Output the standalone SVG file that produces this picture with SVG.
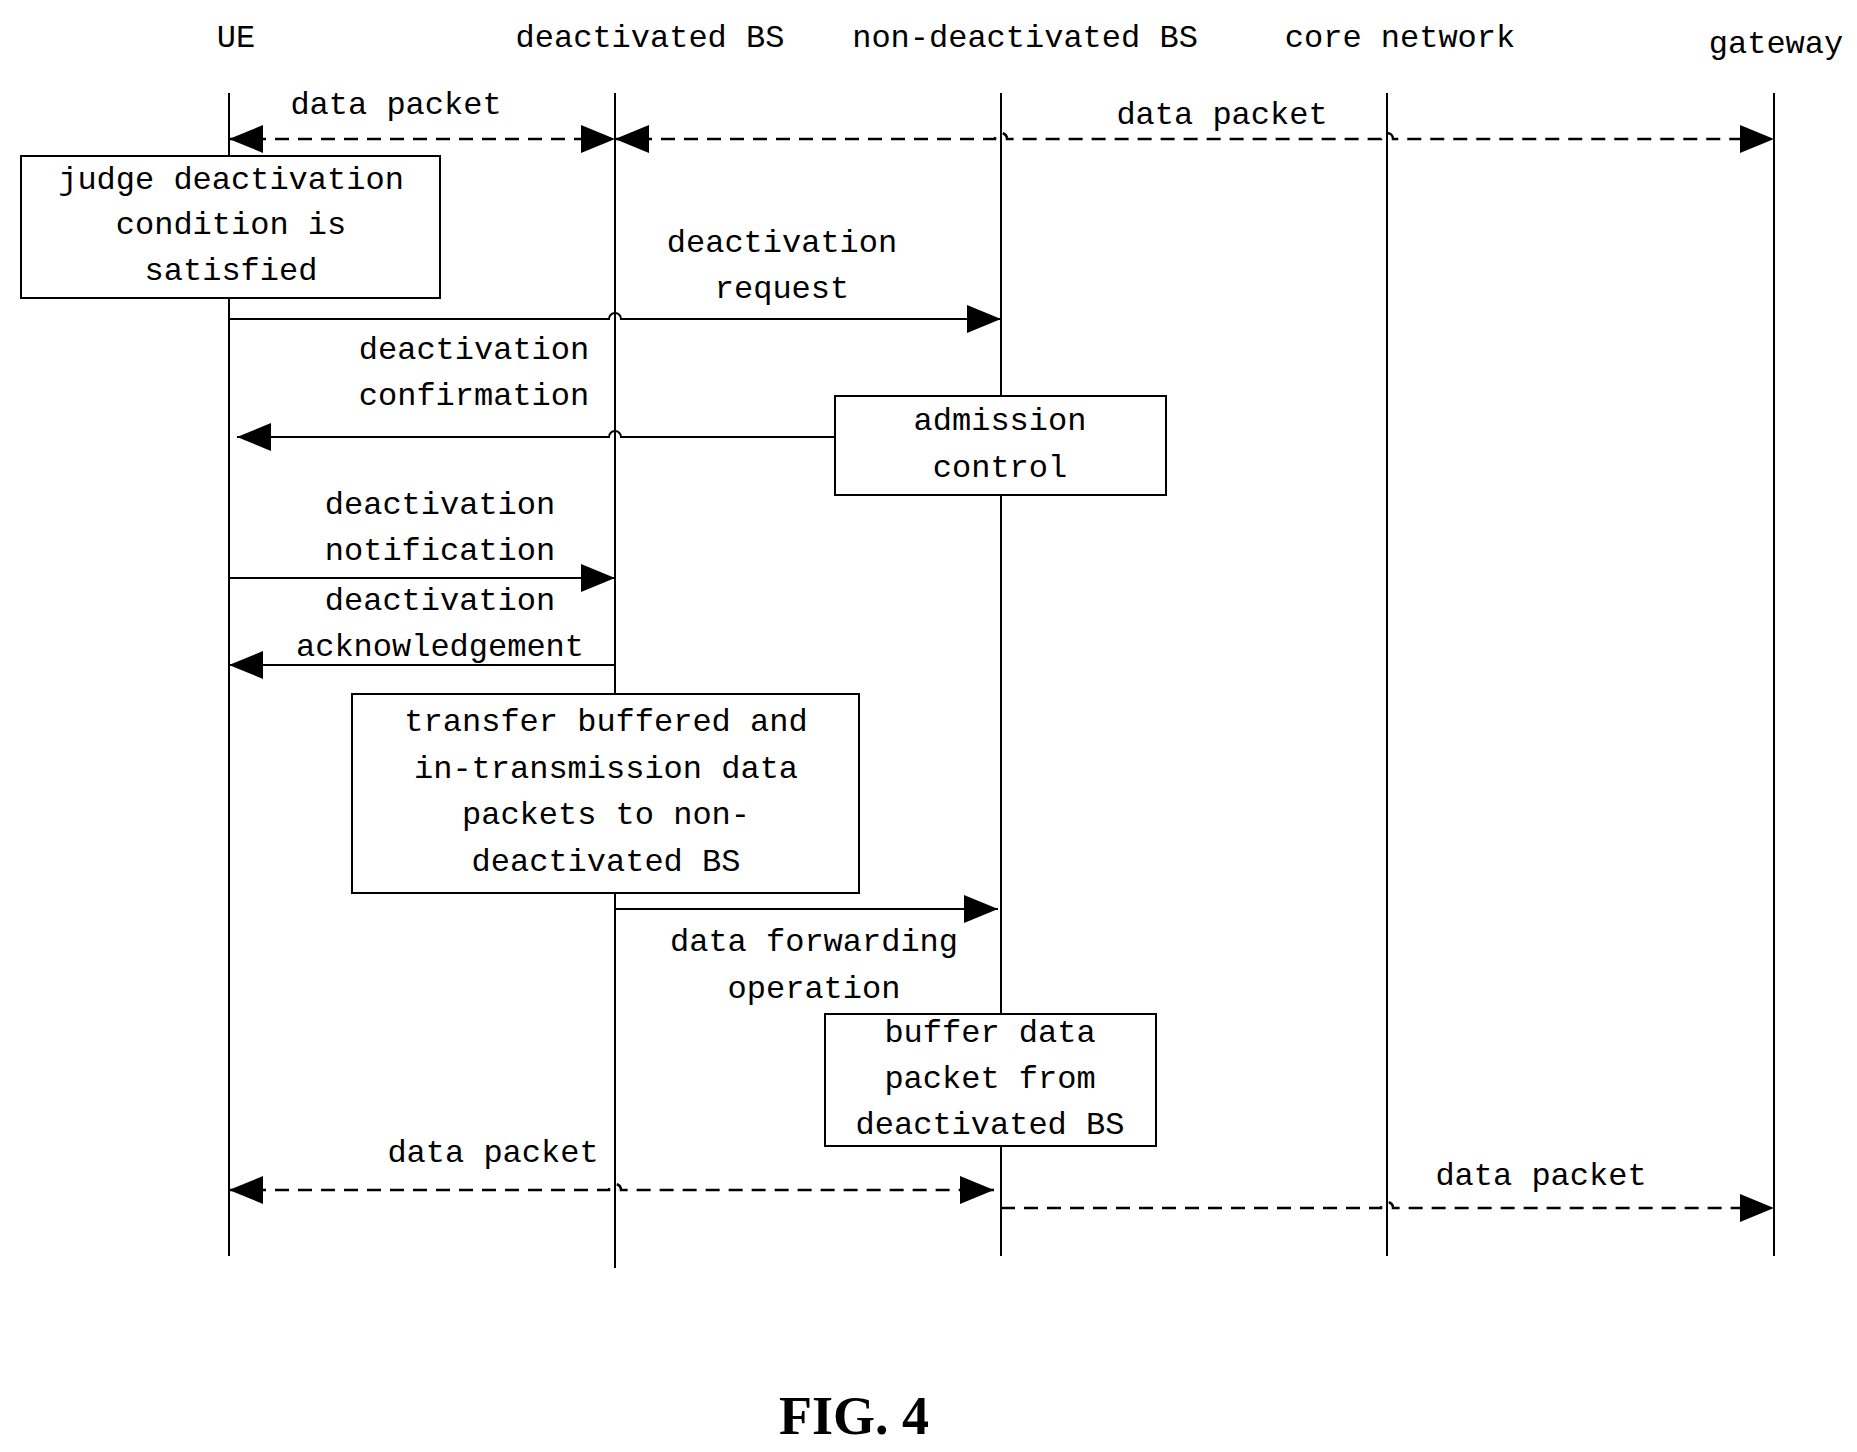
<svg xmlns="http://www.w3.org/2000/svg" width="1857" height="1452" viewBox="0 0 1857 1452">
<style>
text{font-family:"Liberation Mono","DejaVu Sans Mono",monospace;font-size:32px;fill:#000;text-anchor:middle;dominant-baseline:central}
.l{stroke:#000;stroke-width:2;fill:none}
.d{stroke:#000;stroke-width:2.5;fill:none;stroke-dasharray:14 9}
.b{fill:#fff;stroke:#000;stroke-width:2}
.fig{font-family:"Liberation Serif",serif;font-weight:bold;font-size:54px}
</style>
<defs>
<marker id="a" markerUnits="userSpaceOnUse" markerWidth="34" markerHeight="28" refX="34" refY="14" orient="auto-start-reverse"><path d="M0,0L34,14L0,28z" fill="#000"/></marker>
</defs>
<g id="headers">
<text x="236" y="38">UE</text>
<text x="650" y="38">deactivated BS</text>
<text x="1025" y="38">non-deactivated BS</text>
<text x="1400" y="38">core network</text>
<text x="1776" y="44">gateway</text>
</g>
<g id="lifelines">
<line class="l" x1="229" y1="93" x2="229" y2="1256"/>
<line class="l" x1="615" y1="93" x2="615" y2="1268"/>
<line class="l" x1="1001" y1="93" x2="1001" y2="1256"/>
<line class="l" x1="1387" y1="93" x2="1387" y2="1256"/>
<line class="l" x1="1774" y1="93" x2="1774" y2="1256"/>
</g>
<g id="connectors">
<line class="d" x1="229" y1="139" x2="615" y2="139" marker-start="url(#a)" marker-end="url(#a)"/>
<path class="d" d="M615,139H995a6,6 0 0 1 12,0H1381a6,6 0 0 1 12,0H1774" marker-start="url(#a)" marker-end="url(#a)"/>
<path class="l" d="M229,319H609a6,6 0 0 1 12,0H1001" marker-end="url(#a)"/>
<path class="l" d="M835,437H621a6,6 0 0 0 -12,0H237" marker-end="url(#a)"/>
<line class="l" x1="229" y1="578" x2="615" y2="578" marker-end="url(#a)"/>
<line class="l" x1="615" y1="665" x2="229" y2="665" marker-end="url(#a)"/>
<path class="l" d="M615,893V909H998" marker-end="url(#a)"/>
<path class="d" d="M229,1190H609a6,6 0 0 1 12,0H994" marker-start="url(#a)" marker-end="url(#a)"/>
<path class="d" d="M1001,1208H1381a6,6 0 0 1 12,0H1774" marker-end="url(#a)"/>
</g>
<g id="labels">
<text x="396" y="105">data packet</text>
<text x="1222" y="115">data packet</text>
<text x="782" y="243">deactivation</text>
<text x="782" y="289">request</text>
<text x="474" y="350">deactivation</text>
<text x="474" y="396">confirmation</text>
<text x="440" y="505">deactivation</text>
<text x="440" y="551">notification</text>
<text x="440" y="601">deactivation</text>
<text x="440" y="647">acknowledgement</text>
<text x="814" y="942">data forwarding</text>
<text x="814" y="989">operation</text>
<text x="493" y="1153">data packet</text>
<text x="1541" y="1176">data packet</text>
</g>
<g id="judge">
<rect class="b" x="21" y="156" width="419" height="142"/>
<text x="231" y="180">judge deactivation</text>
<text x="231" y="225">condition is</text>
<text x="231" y="271">satisfied</text>
</g>
<g id="admission">
<rect class="b" x="835" y="396" width="331" height="99"/>
<text x="1000" y="421">admission</text>
<text x="1000" y="468">control</text>
</g>
<g id="transfer">
<rect class="b" x="352" y="694" width="507" height="199"/>
<text x="606" y="722">transfer buffered and</text>
<text x="606" y="769">in-transmission data</text>
<text x="606" y="815">packets to non-</text>
<text x="606" y="862">deactivated BS</text>
</g>
<g id="buffer">
<rect class="b" x="825" y="1014" width="331" height="132"/>
<text x="990" y="1033">buffer data</text>
<text x="990" y="1079">packet from</text>
<text x="990" y="1125">deactivated BS</text>
</g>
<text class="fig" x="854" y="1416">FIG. 4</text>
</svg>
